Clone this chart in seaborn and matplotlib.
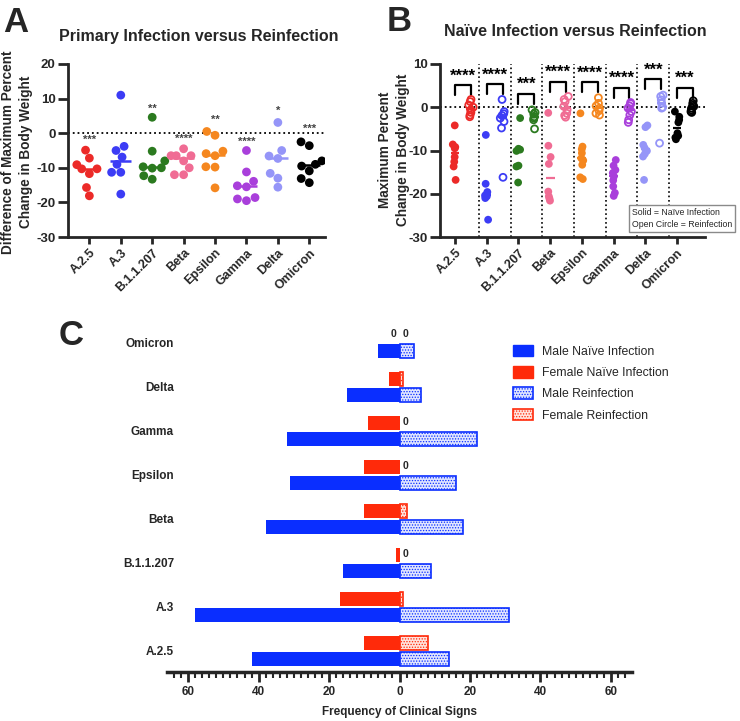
import numpy as np
import pandas as pd
import matplotlib
matplotlib.use('Agg')
import matplotlib.pyplot as plt
import seaborn as sns
from matplotlib.patches import Patch

sns.set_style('ticks')
plt.rcParams['font.family'] = ['Liberation Sans', 'DejaVu Sans']
plt.rcParams['hatch.linewidth'] = 0.6
plt.rcParams['axes.unicode_minus'] = False

# variants + colours used in panels A and B
variants = ['A.2.5', 'A.3', 'B.1.1.207', 'Beta', 'Epsilon', 'Gamma', 'Delta', 'Omicron']
colors = ['#EC2A28', '#3C3CF5', '#2B7A1F', '#F06C94', '#F5871F', '#A93FDB', '#9595F8', '#000000']
pal = dict(zip(variants, colors))

# ---- Panel A : difference of maximum percent change ----
a_a25 = [-4.9, -7.2, -9.1, -10.3, -10.3, -11.7, -15.7, -18.1]
a_a3 = [11.0, -3.8, -5.0, -6.9, -9.0, -11.3, -11.3, -17.6]
a_b11207 = [4.6, -5.2, -8.0, -9.7, -10.0, -10.1, -12.3, -13.3]
a_beta = [-4.5, -6.5, -6.5, -6.5, -8.0, -10.0, -12.0, -12.0]
a_eps = [0.5, -0.6, -5.2, -5.9, -6.5, -9.7, -9.8, -15.8]
a_gamma = [-5.0, -11.2, -13.9, -15.2, -15.5, -18.6, -19.0, -19.5]
a_delta = [3.1, -5.0, -6.6, -7.3, -11.6, -13.0, -15.6]
a_omi = [-2.5, -3.6, -8.0, -9.0, -9.5, -10.9, -13.1, -14.3]
a_vals = [a_a25, a_a3, a_b11207, a_beta, a_eps, a_gamma, a_delta, a_omi]
sigA = ['***', '', '**', '****', '**', '****', '*', '***']
sigA_y = [-1.8, 0, 7.0, -1.5, 3.9, -2.6, 6.4, 1.3]

# ---- Panel B : naive vs reinfection ----
b_naive = [
    [-4.2, -8.6, -9.2, -9.5, -11.5, -12.6, -13.7, -16.8],
    [-6.4, -17.7, -19.6, -20.1, -20.4, -20.6, -21.0, -26.0],
    [-2.5, -9.6, -9.8, -10.1, -13.5, -13.7, -17.4],
    [-1.3, -8.9, -11.5, -13.1, -19.5, -20.6, -21.1, -21.6],
    [-1.4, -9.1, -9.7, -10.6, -11.8, -12.3, -13.3, -16.2, -16.6],
    [-12.2, -13.5, -14.5, -15.2, -16.0, -16.9, -18.3, -19.8, -20.5],
    [-4.2, -4.6, -8.7, -9.4, -10.1, -10.8, -11.4, -16.8],
    [-1.0, -2.2, -2.9, -3.5, -6.0, -6.6, -7.0, -7.4],
]
b_reinf = [
    [1.8, 1.3, 0.5, 0.0, -0.6, -1.2, -1.8, -2.2],
    [1.8, -1.0, -1.5, -1.9, -2.5, -3.3, -4.8, -16.2],
    [-0.6, -1.2, -1.6, -2.2, -2.5, -2.9, -5.0],
    [2.5, 1.8, 1.3, 0.2, -0.6, -1.4, -1.9, -2.3],
    [2.2, 0.9, 0.3, -0.2, -0.8, -1.4, -1.8],
    [1.1, 0.8, 0.3, -0.2, -1.0, -1.8, -2.9, -3.5],
    [2.8, 2.5, 1.7, 0.9, 0.0, -0.2, -8.3],
    [1.5, 0.9, 0.5, 0.2, -0.2, -0.6, -1.0, -1.2],
]
sigB = ['****', '****', '***', '****', '****', '****', '***', '***']
bracket_top = [5.2, 5.3, 3.0, 5.9, 5.9, 4.5, 6.5, 4.4]
starB_y = [7.2, 7.4, 5.2, 8.0, 7.8, 6.7, 8.5, 6.7]

# ---- Panel C : frequency of clinical signs ----
c_variants = ['Omicron', 'Delta', 'Gamma', 'Epsilon', 'Beta', 'B.1.1.207', 'A.3', 'A.2.5']
male_naive = [6, 15, 32, 31, 38, 16, 58, 42]
female_naive = [0, 3, 9, 10, 10, 1, 17, 10]
male_reinf = [4, 6, 22, 16, 18, 9, 31, 14]
female_reinf = [0, 1, 0, 0, 2, 0, 1, 8]
BLUE = '#0A2EFF'
RED = '#FF2A0A'

W, H = 740, 721
fig = plt.figure(figsize=(7.4, 7.21), dpi=100)


def box(l, t, r, b):
    return [l / W, 1 - b / H, (r - l) / W, (b - t) / H]


# ================= Panel A =================
dfA = pd.DataFrame({'variant': [v for v, vals in zip(variants, a_vals) for _ in vals],
                    'value': [x for vals in a_vals for x in vals]})
axA = fig.add_axes(box(68, 64, 325, 237))
sns.swarmplot(data=dfA, x='variant', y='value', hue='variant', order=variants,
              palette=pal, size=6.3, legend=False, ax=axA, zorder=3)
for i, vals in enumerate(a_vals):
    axA.hlines(np.median(vals), i - 0.33, i + 0.33, color=colors[i], lw=1.8, zorder=4)
    if sigA[i]:
        axA.text(i, sigA_y[i], sigA[i], ha='center', va='center', fontsize=8,
                 color='#444444', fontweight='bold')
axA.axhline(0, color='black', ls=':', lw=1.3, zorder=1)
axA.set_ylim(-30, 20)
axA.set_xlim(-0.68, 7.5)
axA.set_yticks(range(-30, 21, 10))

# ================= Panel B =================
keys = [f'{v}|{g}' for v in variants for g in ['naive', 'reinf']]
rows = []
for v, nv, rv in zip(variants, b_naive, b_reinf):
    rows += [(v, 'naive', f'{v}|naive', x) for x in nv]
    rows += [(v, 'reinf', f'{v}|reinf', x) for x in rv]
dfB = pd.DataFrame(rows, columns=['variant', 'group', 'key', 'value'])

axB = fig.add_axes(box(440, 64, 705, 237))
np.random.seed(2)
sns.stripplot(data=dfB[dfB.group == 'naive'], x='key', y='value', order=keys,
              hue='variant', hue_order=variants, palette=pal, size=5.6, jitter=0.15,
              legend=False, ax=axB, zorder=3)
n1 = len(axB.collections)
sns.stripplot(data=dfB[dfB.group == 'reinf'], x='key', y='value', order=keys,
              hue='variant', hue_order=variants, palette=pal, size=5.0, jitter=0.15,
              legend=False, ax=axB, zorder=3)
for c in axB.collections[n1:]:
    fc = c.get_facecolor()
    c.set_edgecolor(fc)
    c.set_facecolor('none')
    c.set_linewidth(1.3)

for i in range(len(variants)):
    axB.hlines(np.median(b_naive[i]), 2 * i - 0.28, 2 * i + 0.28, color=colors[i], lw=1.6, zorder=4)
    axB.hlines(np.median(b_reinf[i]), 2 * i + 1 - 0.28, 2 * i + 1 + 0.28, color=colors[i], lw=1.6, zorder=4)
    t = bracket_top[i]
    axB.plot([2 * i, 2 * i, 2 * i + 1, 2 * i + 1], [t - 2.3, t, t, t - 2.3], color='black', lw=1.6)
    axB.text(2 * i + 0.5, starB_y[i], sigB[i], ha='center', va='center', fontsize=12,
             fontweight='bold', color='black')
    if i < len(variants) - 1:
        axB.axvline(2 * i + 1.5, color='black', ls=':', lw=1.2, zorder=1)
axB.axhline(0, color='black', ls=':', lw=1.3, zorder=1)
axB.set_ylim(-30, 10)
axB.set_xlim(-0.95, 15.77)
axB.set_yticks(range(-30, 11, 10))
axB.set_xticks(range(0, 16, 2))

for ax in (axA, axB):
    ax.set_xticklabels(variants, rotation=45, ha='right', rotation_mode='anchor',
                       fontsize=9, fontweight='bold')
    ax.set_xlabel('')
    ax.set_ylabel('')
    for lab in ax.get_yticklabels():
        lab.set_fontweight('bold')
        lab.set_fontsize(9.5)
    sns.despine(ax=ax)
    ax.spines['left'].set_linewidth(2)
    ax.spines['bottom'].set_linewidth(2)
    ax.tick_params(axis='y', length=7, width=2, pad=2)
    ax.tick_params(axis='x', length=5, width=2, pad=2)

fig.text(632 / W, 1 - 218.5 / H, 'Solid = Naïve Infection\nOpen Circle = Reinfection',
         fontsize=6.3, ha='left', va='center', linespacing=1.3,
         bbox=dict(boxstyle='square,pad=0.35', fc='white', ec='#8a8a8a', lw=1))

# titles, y labels, panel letters
fig.text(199 / W, 1 - 37 / H, 'Primary Infection versus Reinfection', ha='center',
         va='center', fontsize=11.5, fontweight='bold')
fig.text(575 / W, 1 - 32 / H, 'Naïve Infection versus Reinfection', ha='center',
         va='center', fontsize=11.5, fontweight='bold')
fig.text(17 / W, 1 - 152 / H, 'Difference of Maximum Percent\nChange in Body Weight',
         rotation=90, ha='center', va='center', fontsize=9.8, fontweight='bold',
         linespacing=1.35)
fig.text(394 / W, 1 - 150 / H, 'Maximum Percent\nChange in Body Weight',
         rotation=90, ha='center', va='center', fontsize=9.8, fontweight='bold',
         linespacing=1.35)
fig.text(3 / W, 1 - 32 / H, 'A', fontsize=25, fontweight='bold', va='baseline')
fig.text(387 / W, 1 - 31 / H, 'B', fontsize=25, fontweight='bold', va='baseline')
fig.text(59 / W, 1 - 345 / H, 'C', fontsize=25, fontweight='bold', va='baseline')

# ================= Panel C =================
dfC = pd.DataFrame({'variant': c_variants * 2,
                    'sex': ['Female'] * 8 + ['Male'] * 8,
                    'naive': female_naive + male_naive,
                    'reinf': female_reinf + male_reinf})
dfC['naive_left'] = -dfC['naive']

axC = fig.add_axes(box(167, 321, 632, 672))
sns.barplot(data=dfC, x='naive_left', y='variant', hue='sex', order=c_variants,
            hue_order=['Female', 'Male'], palette={'Female': RED, 'Male': BLUE},
            width=0.72, gap=0.15, linewidth=0, errorbar=None, legend=False,
            saturation=1, orient='h', ax=axC)
n0 = len(axC.patches)
sns.barplot(data=dfC, x='reinf', y='variant', hue='sex', order=c_variants,
            hue_order=['Female', 'Male'], palette={'Female': RED, 'Male': BLUE},
            width=0.72, gap=0.15, linewidth=1.2, fill=False, errorbar=None,
            legend=False, saturation=1, orient='h', ax=axC)
for k, p in enumerate(axC.patches):
    if p.get_width() == 0:
        p.set_visible(False)
        continue
    if k >= n0:
        ec = p.get_edgecolor()
        light = '#ffe2dc' if ec[0] > ec[2] else '#e0e5ff'
        p.set_facecolor(light)
        p.set_hatch('......')
        p.set_edgecolor(ec)

for i, v in enumerate(c_variants):
    if female_naive[i] == 0:
        axC.text(-1.0, i - 0.2, '0', ha='right', va='center', fontsize=7.5, fontweight='bold')
    if female_reinf[i] == 0:
        axC.text(0.8, i - 0.2, '0', ha='left', va='center', fontsize=7.5, fontweight='bold')

axC.set_xlim(-66, 66)
axC.set_ylim(7.48, -0.5)
axC.set_xticks(np.arange(-60, 61, 20))
axC.set_xticklabels([str(abs(t)) for t in range(-60, 61, 20)], fontsize=8.5, fontweight='bold')
axC.set_xticks(np.arange(-64, 65, 2), minor=True)
axC.tick_params(axis='x', which='major', length=7, width=2, pad=3)
axC.tick_params(axis='x', which='minor', length=4.5, width=1.5)
axC.tick_params(axis='y', length=0, pad=-5)
for lab in axC.get_yticklabels():
    lab.set_fontweight('bold')
    lab.set_fontsize(8.5)
for s in ['left', 'top', 'right']:
    axC.spines[s].set_visible(False)
axC.spines['bottom'].set_linewidth(2.5)
axC.set_ylabel('')
axC.set_xlabel('Frequency of Clinical Signs', fontsize=8.5, fontweight='bold', labelpad=6)

handles = [Patch(facecolor=BLUE, edgecolor=BLUE),
           Patch(facecolor=RED, edgecolor=RED),
           Patch(facecolor='#e0e5ff', edgecolor=BLUE, hatch='......', lw=1.2),
           Patch(facecolor='#ffe2dc', edgecolor=RED, hatch='......', lw=1.2)]
labels = ['Male Naïve Infection', 'Female Naïve Infection', 'Male Reinfection', 'Female Reinfection']
fig.legend(handles, labels, loc='upper left', bbox_to_anchor=(513 / W, 1 - 344.5 / H),
           frameon=False, fontsize=8.8, handlelength=1.65, handleheight=1.1,
           handletextpad=0.7, labelspacing=0.68, borderpad=0, borderaxespad=0)

fig.savefig('out.png', dpi=100)
